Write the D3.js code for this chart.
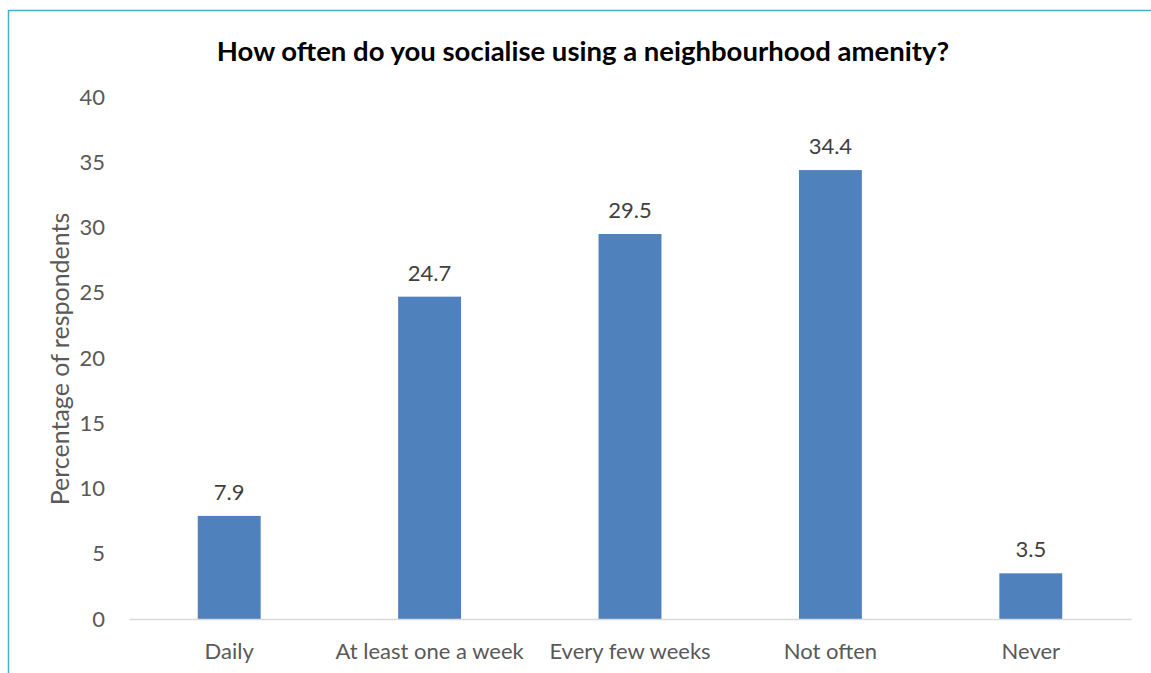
<!DOCTYPE html>
<html>
<head>
<meta charset="utf-8">
<script src="https://cdn.jsdelivr.net/npm/d3@7"></script>
<style>
  html, body { margin: 0; padding: 0; background: #fff; }
  svg { display: block; }
</style>
</head>
<body>
<svg id="chart" width="1151" height="673"></svg>
<script>
const categories = ["Daily", "At least one a week", "Every few weeks", "Not often", "Never"];
const values = [7.9, 24.7, 29.5, 34.4, 3.5];
const yTicks = [0, 5, 10, 15, 20, 25, 30, 35, 40];
const titleText = "How often do you socialise using a neighbourhood amenity?";
const yAxisTitle = "Percentage of respondents";

const svg = d3.select("#chart");
const W = 1151, H = 673;
const margin = { left: 129, right: 20, top: 97, bottom: 54 };
const labelFont = "Lato, 'Open Sans', sans-serif";
const labelSize = 22;

// chart frame
svg.append("rect")
  .attr("x", 8.5).attr("y", 10.5)
  .attr("width", W + 10).attr("height", H + 10)
  .attr("fill", "none").attr("stroke", "#4bacc6").attr("stroke-width", 1.5);

const x = d3.scaleBand()
  .domain(categories)
  .range([margin.left, W - margin.right])
  .paddingInner(0.686).paddingOuter(0.343);

const y = d3.scaleLinear()
  .domain([0, 40])
  .range([H - margin.bottom, margin.top]);

// title
svg.append("text")
  .attr("x", 583).attr("y", 61)
  .attr("text-anchor", "middle")
  .attr("font-family", "Lato, 'Liberation Sans', sans-serif")
  .attr("font-weight", "bold")
  .attr("font-size", 27.5)
  .attr("fill", "#000")
  .text(titleText);

// y axis labels
const yAxis = d3.axisLeft(y).tickValues(yTicks).tickSize(0).tickPadding(24);
const gy = svg.append("g").attr("transform", `translate(${margin.left},0)`).call(yAxis);
gy.select(".domain").remove();
gy.selectAll("text")
  .attr("font-family", labelFont)
  .attr("font-size", labelSize)
  .attr("fill", "#595959");

// y axis title
svg.append("text")
  .attr("transform", `translate(69,${(y(0) + y(40)) / 2 + 1}) rotate(-90)`)
  .attr("text-anchor", "middle")
  .attr("font-family", labelFont)
  .attr("font-size", 25)
  .attr("fill", "#595959")
  .text(yAxisTitle);

// bars
svg.append("g").selectAll("rect")
  .data(values)
  .join("rect")
  .attr("x", (d, i) => x(categories[i]))
  .attr("y", d => y(d))
  .attr("width", x.bandwidth())
  .attr("height", d => y(0) - y(d))
  .attr("fill", "#4f81bd");

// value labels
svg.append("g").selectAll("text")
  .data(values)
  .join("text")
  .attr("x", (d, i) => x(categories[i]) + x.bandwidth() / 2)
  .attr("y", d => y(d) - 16)
  .attr("text-anchor", "middle")
  .attr("font-family", labelFont)
  .attr("font-size", labelSize)
  .attr("fill", "#404040")
  .text(d => d.toFixed(1));

// x axis
const xAxis = d3.axisBottom(x).tickSize(0).tickPadding(24);
const gx = svg.append("g").attr("transform", `translate(0,${y(0)})`).call(xAxis);
gx.select(".domain").attr("stroke", "#d9d9d9").attr("stroke-width", 1.5);
gx.selectAll("text")
  .attr("font-family", labelFont)
  .attr("font-size", labelSize)
  .attr("fill", "#595959");
</script>
</body>
</html>
